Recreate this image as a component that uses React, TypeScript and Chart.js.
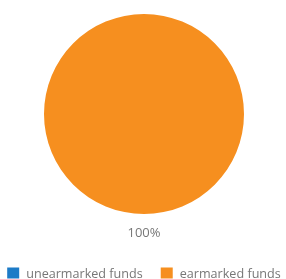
import React, { useEffect, useRef } from "react";
import { Chart, registerables } from "chart.js";

Chart.register(...registerables);

const categories = ["unearmarked funds", "earmarked funds"];
const values = [0, 100];
const colors = ["#1C7BC7", "#F68F1F"];

const FONT = "'Open Sans', Lato, sans-serif";
const TEXT_COLOR = "#777";

const pctLabel = {
  id: "pctLabel",
  afterDraw(chart: any) {
    const { ctx } = chart;
    const total = values.reduce((a, b) => a + b, 0);
    const maxIdx = values.indexOf(Math.max(...values));
    const pct = Math.round((values[maxIdx] / total) * 100) + "%";
    const arc = chart.getDatasetMeta(0).data[maxIdx];
    ctx.save();
    ctx.fillStyle = TEXT_COLOR;
    ctx.font = `13px ${FONT}`;
    ctx.textAlign = "center";
    ctx.textBaseline = "middle";
    ctx.fillText(pct, arc.x, arc.y + arc.outerRadius + 19);
    ctx.restore();
  },
};

const bottomLegend = {
  id: "bottomLegend",
  afterDraw(chart: any) {
    const { ctx } = chart;
    const boxW = 12;
    const boxH = 11;
    const gapText = 7;
    const gapItems = 18;
    ctx.save();
    ctx.font = `12.6px ${FONT}`;
    const widths = categories.map((c) => boxW + gapText + ctx.measureText(c).width);
    const total = widths.reduce((a, b) => a + b, 0) + gapItems * (categories.length - 1);
    const arc = chart.getDatasetMeta(0).data[0];
    let x = arc.x - total / 2;
    const yMid = chart.chartArea.bottom + 59;
    categories.forEach((c, i) => {
      ctx.fillStyle = colors[i];
      ctx.fillRect(x, yMid - boxH / 2, boxW, boxH);
      ctx.fillStyle = TEXT_COLOR;
      ctx.textAlign = "left";
      ctx.textBaseline = "middle";
      ctx.fillText(c, x + boxW + gapText, yMid + 1);
      x += widths[i] + gapItems;
    });
    ctx.restore();
  },
};

export default function App() {
  const ref = useRef<HTMLCanvasElement>(null);
  useEffect(() => {
    const chart = new Chart(ref.current!, {
      type: "pie",
      data: {
        labels: categories,
        datasets: [
          {
            data: values,
            backgroundColor: colors,
            borderWidth: 0,
          },
        ],
      },
      options: {
        animation: false,
        responsive: false,
        maintainAspectRatio: false,
        layout: { padding: { top: 14, left: 2, right: 0, bottom: 65 } },
        plugins: {
          tooltip: { enabled: false },
          legend: { display: false },
        },
      },
      plugins: [pctLabel, bottomLegend],
    });
    return () => chart.destroy();
  }, []);
  return (
    <div style={{ position: "absolute", left: 0, top: 0, width: 286, height: 279 }}>
      <canvas ref={ref} width={286} height={279} />
    </div>
  );
}
